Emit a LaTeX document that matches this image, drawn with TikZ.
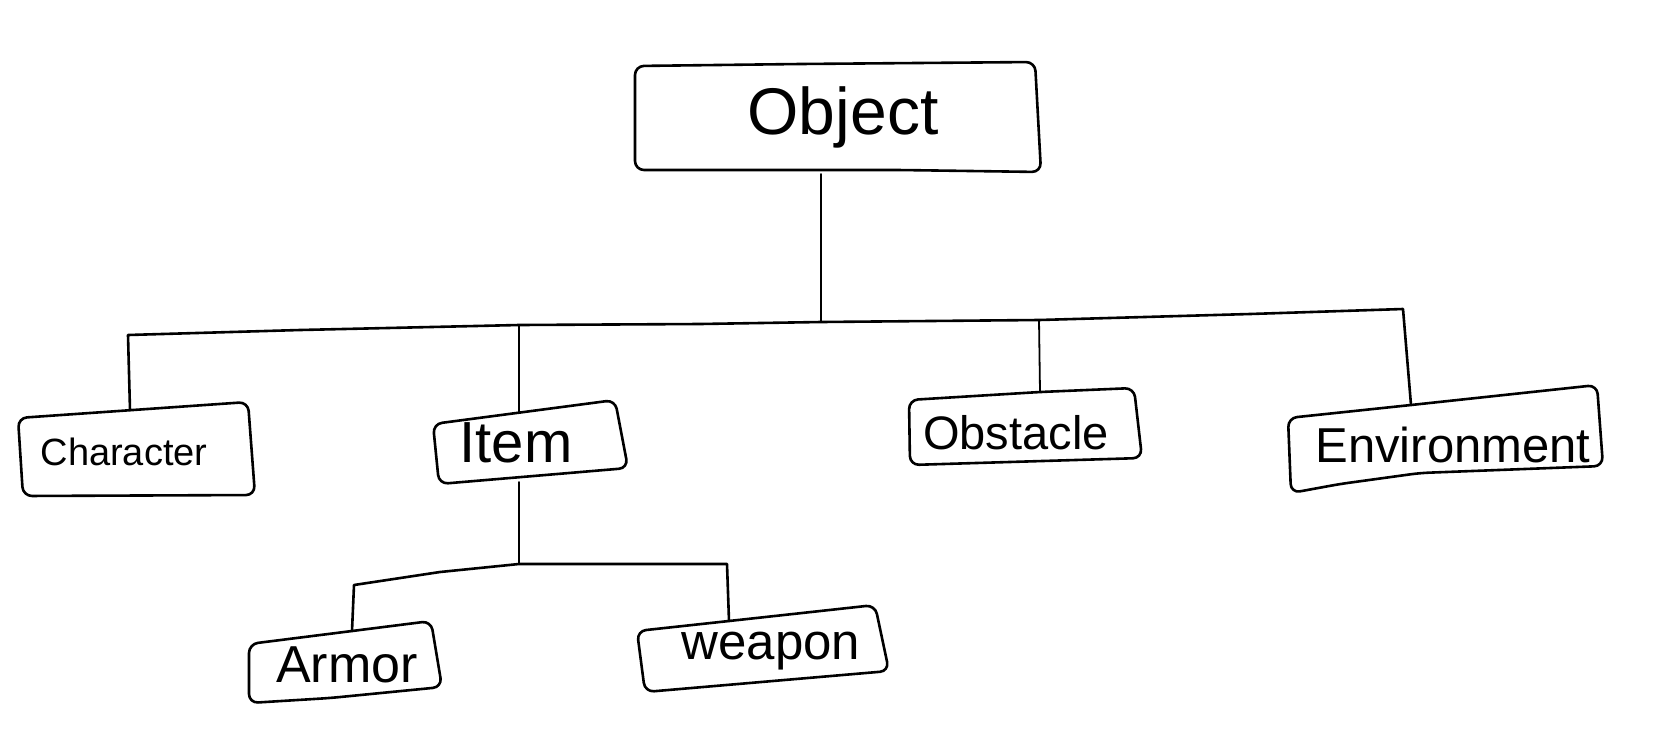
\documentclass[tikz,border=0pt]{standalone}
\usepackage{fontspec}
\setmainfont{Liberation Sans}
\begin{document}
\begin{tikzpicture}[x=1pt,y=-1pt,
  hand/.style={line width=2.6pt,line cap=round,line join=round},
  boxline/.style={hand,rounded corners=9pt},
  wire/.style={line width=1.8pt,line cap=round,line join=round},
  lbl/.style={inner sep=0pt,anchor=center}]
\useasboundingbox[fill=white] (0,0) rectangle (1669,753);
% ---- boxes ----
\draw[boxline] (635,66) -- (800,64) -- (1035,62) -- (1041,172) -- (900,170) -- (635,170) -- cycle;
\draw[boxline] (18,418) -- (248,402) -- (255,495) -- (23,496) -- cycle;
\draw[boxline] (433,424) -- (615,400) -- (628,468) -- (439,484) -- cycle;
\draw[boxline] (909,400) -- (1040,392) -- (1134,388) -- (1142,458) -- (910,465) -- cycle;
\draw[boxline] (1288,418) -- (1411,405) -- (1597,385) -- (1603,466) -- (1420,473) -- (1340,484) -- (1291,493) -- cycle;
\draw[boxline] (249,644) -- (352,631) -- (431,621) -- (442,687) -- (330,698) -- (249,703) -- cycle;
\draw[boxline] (637,631) -- (729,621) -- (875,605) -- (889,671) -- (645,692) -- cycle;
% ---- labels ----
\node[lbl,font=\fontsize{66}{66}\selectfont] (object) at (843,117) {Object};
\node[lbl,font=\fontsize{38}{38}\selectfont] (character) at (124,452) {Character};
\node[lbl,font=\fontsize{58}{58}\selectfont] (item) at (516,443) {Item};
\node[lbl,font=\fontsize{47}{47}\selectfont] (obstacle) at (1016,433) {Obstacle};
\node[lbl,font=\fontsize{49}{49}\selectfont] (environment) at (1453,445) {Environment};
\node[lbl,font=\fontsize{52}{52}\selectfont] (armor) at (347,665) {Armor};
\node[lbl,font=\fontsize{51}{51}\selectfont] (weapon) at (771,651) {weapon};
% ---- anchor points ----
\coordinate (objB) at (821,174);
\coordinate (j0) at (821,322);
\coordinate (jL) at (128,335);
\coordinate (jI) at (519,325);
\coordinate (jO) at (1039,320);
\coordinate (jE) at (1403,309);
\coordinate (charT) at (130,410);
\coordinate (itemT) at (519,413);
\coordinate (obsT) at (1040,392);
\coordinate (envT) at (1411,405);
\coordinate (itemB) at (519,482);
\coordinate (sI) at (519,564);
\coordinate (sL) at (354,585);
\coordinate (sR) at (727,564);
\coordinate (armT) at (352,631);
\coordinate (weaT) at (729,621);
% ---- connectors ----
\draw[wire] (objB) -- (j0);
\draw[hand] (charT) -- (jL) -- (300,330) -- (jI) -- (700,324) -- (j0) -- (jO) -- (1250,314) -- (jE) -- (envT);
\draw[wire] (jI) -- (itemT);
\draw[wire] (jO) -- (obsT);
\draw[wire] (itemB) -- (sI);
\draw[hand] (armT) -- (sL) -- (440,572) -- (sI) -- (sR) -- (weaT);
\end{tikzpicture}
\end{document}
